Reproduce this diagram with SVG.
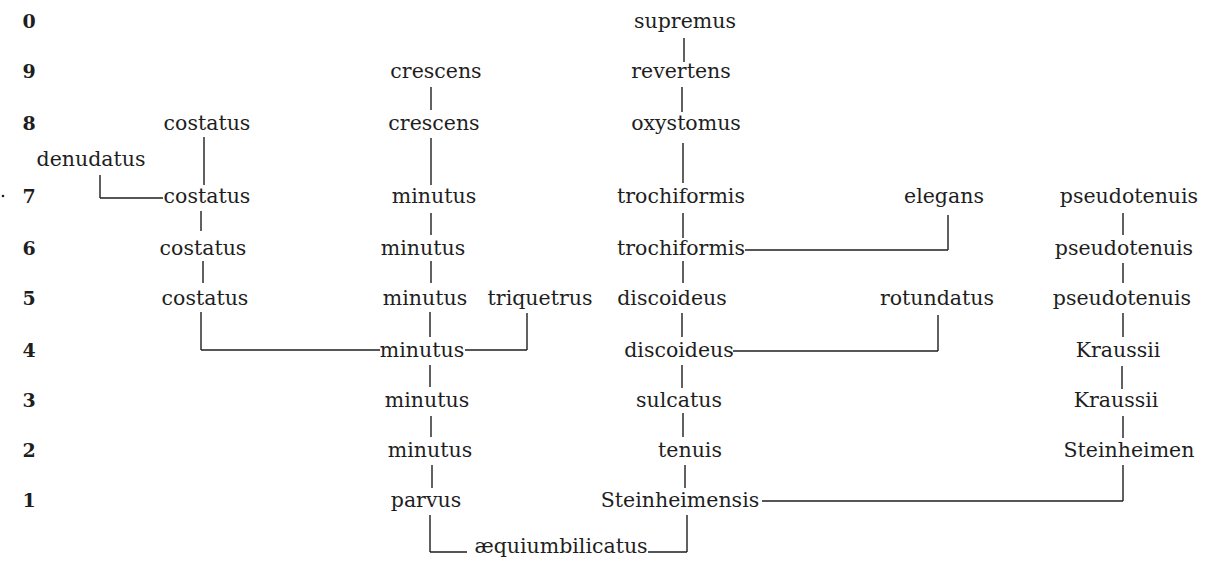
<svg xmlns="http://www.w3.org/2000/svg" width="1210" height="563" viewBox="0 0 1210 563">
<style>
text{font-family:"DejaVu Serif","Liberation Serif",serif;font-size:20.5px;fill:#1e1e1e;text-anchor:middle}
.d{font-weight:bold;font-size:19px}
.c line{stroke:#1e1e1e;stroke-width:1.4}
</style>
<rect width="1210" height="563" fill="#fff"/>
<g id="axis">
<text class="d" x="29" y="28">0</text>
<text class="d" x="29" y="78">9</text>
<text class="d" x="29" y="130">8</text>
<text class="d" x="29" y="203">7</text>
<text class="d" x="29" y="255">6</text>
<text class="d" x="29" y="305">5</text>
<text class="d" x="29" y="357">4</text>
<text class="d" x="29" y="407">3</text>
<text class="d" x="29" y="457">2</text>
<text class="d" x="29" y="507">1</text>
<circle cx="3" cy="196" r="1.3" fill="#1e1e1e"/>
</g>
<g id="n-costatus8"><text x="207" y="130">costatus</text></g>
<g id="n-denudatus"><text x="91" y="166">denudatus</text></g>
<g id="n-costatus7"><text x="207" y="203">costatus</text></g>
<g id="n-costatus6"><text x="203" y="255">costatus</text></g>
<g id="n-costatus5"><text x="205" y="305">costatus</text></g>
<g id="n-crescens9"><text x="436" y="78">crescens</text></g>
<g id="n-crescens8"><text x="434" y="130">crescens</text></g>
<g id="n-minutus7"><text x="434" y="203">minutus</text></g>
<g id="n-minutus6"><text x="423" y="255">minutus</text></g>
<g id="n-minutus5"><text x="425" y="305">minutus</text></g>
<g id="n-triquetrus"><text x="540" y="305">triquetrus</text></g>
<g id="n-minutus4"><text x="422" y="357">minutus</text></g>
<g id="n-minutus3"><text x="427" y="407">minutus</text></g>
<g id="n-minutus2"><text x="430" y="457">minutus</text></g>
<g id="n-parvus"><text x="426" y="507">parvus</text></g>
<g id="n-aequiumbilicatus"><text x="561" y="553">æquiumbilicatus</text></g>
<g id="n-supremus"><text x="685" y="28">supremus</text></g>
<g id="n-revertens"><text x="681" y="78">revertens</text></g>
<g id="n-oxystomus"><text x="686" y="130">oxystomus</text></g>
<g id="n-trochiformis7"><text x="681" y="203">trochiformis</text></g>
<g id="n-trochiformis6"><text x="681" y="255">trochiformis</text></g>
<g id="n-discoideus5"><text x="672" y="305">discoideus</text></g>
<g id="n-discoideus4"><text x="679" y="357">discoideus</text></g>
<g id="n-sulcatus"><text x="679" y="407">sulcatus</text></g>
<g id="n-tenuis"><text x="690" y="457">tenuis</text></g>
<g id="n-steinheimensis"><text x="680" y="507">Steinheimensis</text></g>
<g id="n-elegans"><text x="944" y="203">elegans</text></g>
<g id="n-rotundatus"><text x="937" y="305">rotundatus</text></g>
<g id="n-pseudotenuis7"><text x="1129" y="203">pseudotenuis</text></g>
<g id="n-pseudotenuis6"><text x="1124" y="255">pseudotenuis</text></g>
<g id="n-pseudotenuis5"><text x="1122" y="305">pseudotenuis</text></g>
<g id="n-kraussii4"><text x="1118" y="357">Kraussii</text></g>
<g id="n-kraussii3"><text x="1116" y="407">Kraussii</text></g>
<g id="n-steinheimen"><text x="1129" y="457">Steinheimen</text></g>
<g id="connectors" class="c">
<line x1="204" y1="137" x2="204" y2="185"/>
<line x1="100" y1="175" x2="100" y2="198"/>
<line x1="100" y1="198" x2="163" y2="198"/>
<line x1="201" y1="211" x2="201" y2="231"/>
<line x1="203" y1="261" x2="203" y2="283"/>
<line x1="201" y1="312" x2="201" y2="350"/>
<line x1="201" y1="350" x2="380" y2="350"/>
<line x1="431" y1="87" x2="431" y2="110"/>
<line x1="431" y1="138" x2="431" y2="185"/>
<line x1="431" y1="213" x2="431" y2="235"/>
<line x1="431" y1="261" x2="431" y2="283"/>
<line x1="430" y1="312" x2="430" y2="337"/>
<line x1="527" y1="313" x2="527" y2="350"/>
<line x1="465" y1="350" x2="527" y2="350"/>
<line x1="430" y1="365" x2="430" y2="387"/>
<line x1="431" y1="416" x2="431" y2="437"/>
<line x1="432" y1="465" x2="432" y2="488"/>
<line x1="430" y1="515" x2="430" y2="552"/>
<line x1="430" y1="552" x2="467" y2="552"/>
<line x1="648" y1="552" x2="687" y2="552"/>
<line x1="687" y1="515" x2="687" y2="552"/>
<line x1="684" y1="38" x2="684" y2="62"/>
<line x1="682" y1="87" x2="682" y2="112"/>
<line x1="683" y1="143" x2="683" y2="183"/>
<line x1="683" y1="213" x2="683" y2="238"/>
<line x1="683" y1="261" x2="683" y2="283"/>
<line x1="745" y1="250" x2="948" y2="250"/>
<line x1="948" y1="215" x2="948" y2="250"/>
<line x1="682" y1="313" x2="682" y2="337"/>
<line x1="733" y1="351" x2="938" y2="351"/>
<line x1="938" y1="315" x2="938" y2="351"/>
<line x1="682" y1="365" x2="682" y2="388"/>
<line x1="683" y1="413" x2="683" y2="437"/>
<line x1="685" y1="465" x2="685" y2="488"/>
<line x1="762" y1="501" x2="1123" y2="501"/>
<line x1="1123" y1="465" x2="1123" y2="501"/>
<line x1="1123" y1="213" x2="1123" y2="235"/>
<line x1="1123" y1="263" x2="1123" y2="283"/>
<line x1="1123" y1="313" x2="1123" y2="337"/>
<line x1="1122" y1="366" x2="1122" y2="389"/>
<line x1="1123" y1="416" x2="1123" y2="438"/>
</g>
</svg>
